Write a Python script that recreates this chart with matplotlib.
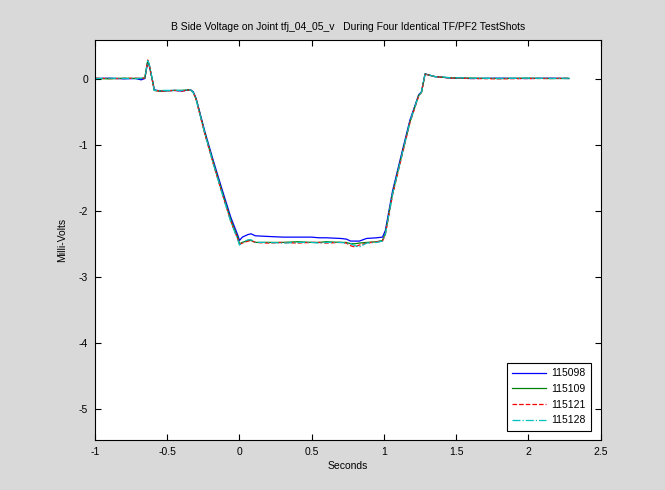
import matplotlib.pyplot as plt

plt.rcParams['font.family'] = ['Liberation Sans', 'DejaVu Sans']

# time axis shared by the four shots (seconds)
t = [-1.0, -0.9, -0.8, -0.72, -0.68, -0.655, -0.635, -0.625, -0.6, -0.59,
     -0.55, -0.45, -0.4, -0.34, -0.32, -0.30, -0.24, -0.18, -0.12, -0.06,
     -0.01, 0.0, 0.02, 0.06, 0.08, 0.11, 0.2, 0.3, 0.4, 0.5,
     0.55, 0.6, 0.7, 0.74, 0.77, 0.8, 0.83, 0.88, 0.95, 0.99,
     1.01, 1.06, 1.13, 1.18, 1.24, 1.26, 1.285, 1.3, 1.35, 1.45,
     1.6, 1.8, 2.0, 2.15, 2.28]

v_115098 = [0.0, 0.005, -0.005, 0.0, -0.02, 0.0, 0.26, 0.2, -0.05, -0.17,
            -0.19, -0.18, -0.19, -0.17, -0.2, -0.3, -0.8, -1.25, -1.68, -2.1,
            -2.38, -2.45, -2.40, -2.36, -2.35, -2.38, -2.39, -2.40, -2.40, -2.40,
            -2.41, -2.41, -2.42, -2.43, -2.46, -2.46, -2.46, -2.42, -2.41, -2.40,
            -2.30, -1.70, -1.07, -0.63, -0.25, -0.2, 0.07, 0.06, 0.03, 0.01,
            0.0, 0.005, 0.0, 0.005, 0.0]

v_115109 = [0.0, -0.005, 0.005, 0.0, 0.0, 0.01, 0.27, 0.21, -0.06, -0.18,
            -0.19, -0.18, -0.18, -0.17, -0.21, -0.31, -0.82, -1.28, -1.72, -2.14,
            -2.42, -2.50, -2.48, -2.45, -2.45, -2.48, -2.48, -2.48, -2.47, -2.48,
            -2.48, -2.47, -2.48, -2.48, -2.50, -2.50, -2.49, -2.48, -2.47, -2.45,
            -2.34, -1.74, -1.10, -0.66, -0.26, -0.21, 0.07, 0.06, 0.03, 0.01,
            0.005, 0.0, 0.005, 0.0, 0.0]

v_115121 = [0.005, 0.0, 0.0, 0.005, 0.0, 0.01, 0.28, 0.2, -0.06, -0.18,
            -0.19, -0.18, -0.19, -0.17, -0.21, -0.32, -0.84, -1.3, -1.74, -2.16,
            -2.44, -2.51, -2.49, -2.46, -2.45, -2.48, -2.49, -2.48, -2.49, -2.48,
            -2.48, -2.49, -2.48, -2.49, -2.53, -2.55, -2.52, -2.49, -2.47, -2.46,
            -2.36, -1.76, -1.12, -0.67, -0.27, -0.21, 0.06, 0.06, 0.03, 0.01,
            0.0, -0.005, 0.0, 0.0, 0.005]

v_115128 = [0.0, 0.005, 0.0, 0.0, 0.005, 0.01, 0.27, 0.22, -0.05, -0.18,
            -0.18, -0.18, -0.18, -0.17, -0.21, -0.32, -0.83, -1.3, -1.74, -2.17,
            -2.45, -2.52, -2.48, -2.44, -2.44, -2.48, -2.48, -2.49, -2.48, -2.48,
            -2.49, -2.48, -2.48, -2.49, -2.50, -2.53, -2.55, -2.49, -2.48, -2.46,
            -2.36, -1.75, -1.11, -0.66, -0.26, -0.21, 0.07, 0.06, 0.03, 0.015,
            0.005, 0.0, 0.005, 0.0, 0.005]

labels = ['115098', '115109', '115121', '115128']

fig = plt.figure(figsize=(6.65, 4.9), dpi=100, facecolor='#d9d9d9')
ax = fig.add_axes([0.1429, 0.102, 0.7602, 0.816])

ax.plot(t, v_115098, color=(0, 0, 1), lw=0.9, ls='-', label=labels[0])
ax.plot(t, v_115109, color=(0, 0.5, 0), lw=0.9, ls='-', label=labels[1])
ax.plot(t, v_115121, color=(1, 0, 0), lw=0.9, ls='--', label=labels[2])
ax.plot(t, v_115128, color=(0, 0.75, 0.75), lw=0.9, ls='-.', label=labels[3])

ax.set_xlim(-1, 2.5)
ax.set_ylim(-5.47, 0.58)
ax.set_xticks([-1, -0.5, 0, 0.5, 1, 1.5, 2, 2.5])
ax.set_xticklabels(['-1', '-0.5', '0', '0.5', '1', '1.5', '2', '2.5'])
ax.set_yticks([-5, -4, -3, -2, -1, 0])
ax.set_yticklabels(['-5', '-4', '-3', '-2', '-1', '0'])
ax.tick_params(direction='in', length=4, width=0.8, top=True, right=True,
               labelsize=7.5, pad=5)
for s in ax.spines.values():
    s.set_linewidth(0.8)

ax.set_title('B Side Voltage on Joint tfj_04_05_v   During Four Identical TF/PF2 TestShots',
             fontsize=7.5, pad=7)
ax.set_xlabel('Seconds', fontsize=7.5, labelpad=3)
ax.set_ylabel('Milli-Volts', fontsize=7.5, labelpad=8)

leg = ax.legend(loc='lower right', fontsize=7.5, fancybox=False, framealpha=1,
                edgecolor='black', borderaxespad=0.9, handlelength=3.3,
                handletextpad=0.5, labelspacing=0.55, borderpad=0.5)
leg.get_frame().set_linewidth(0.8)

plt.savefig('out.png', dpi=100, facecolor=fig.get_facecolor())
